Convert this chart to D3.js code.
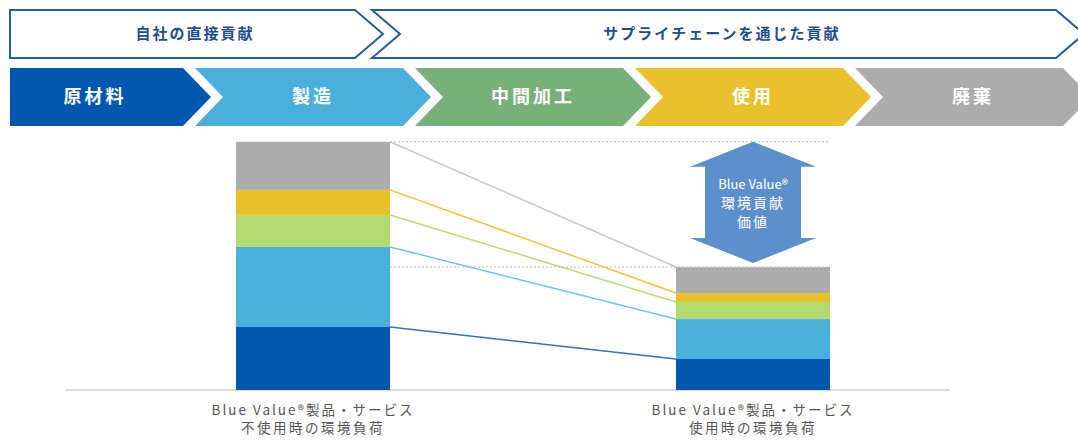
<!DOCTYPE html>
<html>
<head>
<meta charset="utf-8">
<script src="https://cdn.jsdelivr.net/npm/d3@7"></script>
<style>
  body { margin: 0; background: #fff; }
  svg { display: block; font-family: "Noto Sans CJK JP", "Noto Sans", sans-serif; }
</style>
</head>
<body>
<svg id="mainsvg" width="1078" height="441"></svg>
<script>
// stages of the life cycle (also the stack keys)
var stages = ["原材料", "製造", "中間加工", "使用", "廃棄"];
var stageColors = ["#0057b0", "#4aafda", "#78b07a", "#e9c12c", "#acacac"];
var barColors = ["#0057b0", "#4aafda", "#b3da6e", "#e8c12a", "#acacac"];
var lineColors = ["#3a6cc0", "#6ec3ea", "#b8dc78", "#ecc53a", "#c8c8c8"];

// contribution scopes over the stages
var scopes = ["自社の直接貢献", "サプライチェーンを通じた貢献"];

// two products: environmental load without / with Blue Value
var products = ["不使用時", "使用時"];
var productLabels = [
  ["Blue Value®製品・サービス", "不使用時の環境負荷"],
  ["Blue Value®製品・サービス", "使用時の環境負荷"]
];
var withoutValues = [25.4, 32.3, 12.9, 10.1, 19.4];
var withValues = [12.5, 16.1, 6.9, 3.6, 10.5];
var arrowLabel = ["Blue Value®", "環境貢献", "価値"];

var svg = d3.select("#mainsvg");

// ---- chevron header ----
var stageX = d3.scaleBand().domain(stages).range([-25, 1075]).padding(0);
var chevW = 208, tipD = 28;
var rowTop = 68, rowBot = 126, rowMid = (rowTop + rowBot) / 2;

function chevronPath(x0, x1, top, bot, d, flatLeft) {
  var mid = (top + bot) / 2;
  var p = d3.path();
  p.moveTo(x0, top);
  p.lineTo(x1, top);
  p.lineTo(x1 + d, mid);
  p.lineTo(x1, bot);
  p.lineTo(x0, bot);
  if (!flatLeft) p.lineTo(x0 + d, mid);
  p.closePath();
  return p.toString();
}

var stageG = svg.append("g").attr("class", "stages");
stageG.selectAll("path")
  .data(stages)
  .enter()
  .append("path")
  .attr("d", function (d, i) {
    var x0 = stageX(d);
    var x1 = x0 + chevW;
    if (i === 0) {
      x1 = stageX(stages[1]) - 12;
      x0 = 10;
    }
    return chevronPath(x0, x1, rowTop, rowBot, tipD, i === 0);
  })
  .attr("fill", function (d, i) { return stageColors[i]; });

stageG.selectAll("text")
  .data(stages)
  .enter()
  .append("text")
  .attr("x", function (d, i) { return i === 0 ? 95 : stageX(d) + 118; })
  .attr("y", rowMid + 6)
  .attr("text-anchor", "middle")
  .attr("fill", "#fff")
  .attr("font-size", 18)
  .attr("font-weight", "bold")
  .attr("letter-spacing", 3)
  .text(function (d) { return d; });

// outlined scope chevrons
var scopeTop = 10, scopeBot = 58;
var scopeBoxes = [
  { x0: 10, x1: 355, flat: true },
  { x0: 372, x1: 1056, flat: false }
];
var scopeG = svg.append("g").attr("class", "scopes");
scopeG.selectAll("path")
  .data(scopes)
  .enter()
  .append("path")
  .attr("d", function (d, i) {
    var b = scopeBoxes[i];
    return chevronPath(b.x0, b.x1, scopeTop, scopeBot, 28, b.flat);
  })
  .attr("fill", "#fff")
  .attr("stroke", "#2a5c9a")
  .attr("stroke-width", 2);

scopeG.selectAll("text")
  .data(scopes)
  .enter()
  .append("text")
  .attr("x", function (d, i) { return i === 0 ? 195 : 722; })
  .attr("y", (scopeTop + scopeBot) / 2 + 5)
  .attr("text-anchor", "middle")
  .attr("fill", "#1f4e8c")
  .attr("font-size", 15)
  .attr("font-weight", "bold")
  .attr("letter-spacing", 2)
  .text(function (d) { return d; });

// ---- stacked bars ----
var rows = [withoutValues, withValues].map(function (vals, j) {
  var r = { product: products[j] };
  stages.forEach(function (s, i) { r[s] = vals[i]; });
  return r;
});
var series = d3.stack().keys(stages)(rows);

var x = d3.scalePoint().domain(products).range([313, 753]);
var barW = 154;
var y = d3.scaleLinear().domain([0, 100]).range([390, 142]);

var chart = svg.append("g").attr("class", "chart");

// baseline
chart.append("line")
  .attr("x1", 65).attr("x2", 950)
  .attr("y1", y(0)).attr("y2", y(0))
  .attr("stroke", "#cfcfcf")
  .attr("stroke-width", 1.5);

chart.selectAll("g.series")
  .data(series)
  .enter()
  .append("g")
  .attr("class", "series")
  .attr("fill", function (d, i) { return barColors[i]; })
  .selectAll("rect")
  .data(function (d) { return d; })
  .enter()
  .append("rect")
  .attr("x", function (d) { return x(d.data.product) - barW / 2; })
  .attr("y", function (d) { return y(d[1]); })
  .attr("width", barW)
  .attr("height", function (d) { return y(d[0]) - y(d[1]); });

// connector lines between segment tops
chart.selectAll("line.conn")
  .data(series)
  .enter()
  .append("line")
  .attr("class", "conn")
  .attr("x1", x(products[0]) + barW / 2)
  .attr("y1", function (d) { return y(d[0][1]); })
  .attr("x2", x(products[1]) - barW / 2)
  .attr("y2", function (d) { return y(d[1][1]); })
  .attr("stroke", function (d, i) { return lineColors[i]; })
  .attr("stroke-width", 1.5);

// dotted guides at both totals
var totals = [d3.sum(withoutValues), d3.sum(withValues)];
chart.selectAll("line.guide")
  .data(totals)
  .enter()
  .append("line")
  .attr("class", "guide")
  .attr("x1", x(products[0]) + barW / 2)
  .attr("x2", x(products[1]) + barW / 2)
  .attr("y1", function (d) { return y(d); })
  .attr("y2", function (d) { return y(d); })
  .attr("stroke", "#bdbdbd")
  .attr("stroke-width", 1.2)
  .attr("stroke-dasharray", "2,2");

// double arrow showing the contribution value
var ax = x(products[1]);
var aTop = y(totals[0]), aBot = y(totals[1]) - 4;
var headW = 63, shaftW = 48, headH = 25;
var arrow = d3.path();
arrow.moveTo(ax, aTop);
arrow.lineTo(ax + headW, aTop + headH);
arrow.lineTo(ax + shaftW, aTop + headH);
arrow.lineTo(ax + shaftW, aBot - headH);
arrow.lineTo(ax + headW, aBot - headH);
arrow.lineTo(ax, aBot);
arrow.lineTo(ax - headW, aBot - headH);
arrow.lineTo(ax - shaftW, aBot - headH);
arrow.lineTo(ax - shaftW, aTop + headH);
arrow.lineTo(ax - headW, aTop + headH);
arrow.closePath();
chart.append("path")
  .attr("d", arrow.toString())
  .attr("fill", "#5d8fcc");

var aMid = (aTop + aBot) / 2;
chart.selectAll("text.arrow")
  .data(arrowLabel)
  .enter()
  .append("text")
  .attr("class", "arrow")
  .attr("x", ax)
  .attr("y", function (d, i) { return aMid - 13 + i * 19; })
  .attr("text-anchor", "middle")
  .attr("fill", "#fff")
  .attr("font-size", function (d, i) { return i === 0 ? 13 : 14; })
  .attr("letter-spacing", function (d, i) { return i === 0 ? 0 : 2; })
  .text(function (d) { return d; });

// product labels under bars
var labelG = chart.selectAll("g.plabel")
  .data(products)
  .enter()
  .append("g")
  .attr("class", "plabel");
labelG.selectAll("text")
  .data(function (d, j) { return productLabels[j].map(function (t) { return { t: t, p: d }; }); })
  .enter()
  .append("text")
  .attr("x", function (d) { return x(d.p); })
  .attr("y", function (d, i) { return 415 + i * 18; })
  .attr("text-anchor", "middle")
  .attr("fill", "#555")
  .attr("font-size", 13.5)
  .attr("letter-spacing", function (d, i) { return i === 0 ? 2 : 2.5; })
  .text(function (d) { return d.t; });
</script>
</body>
</html>
